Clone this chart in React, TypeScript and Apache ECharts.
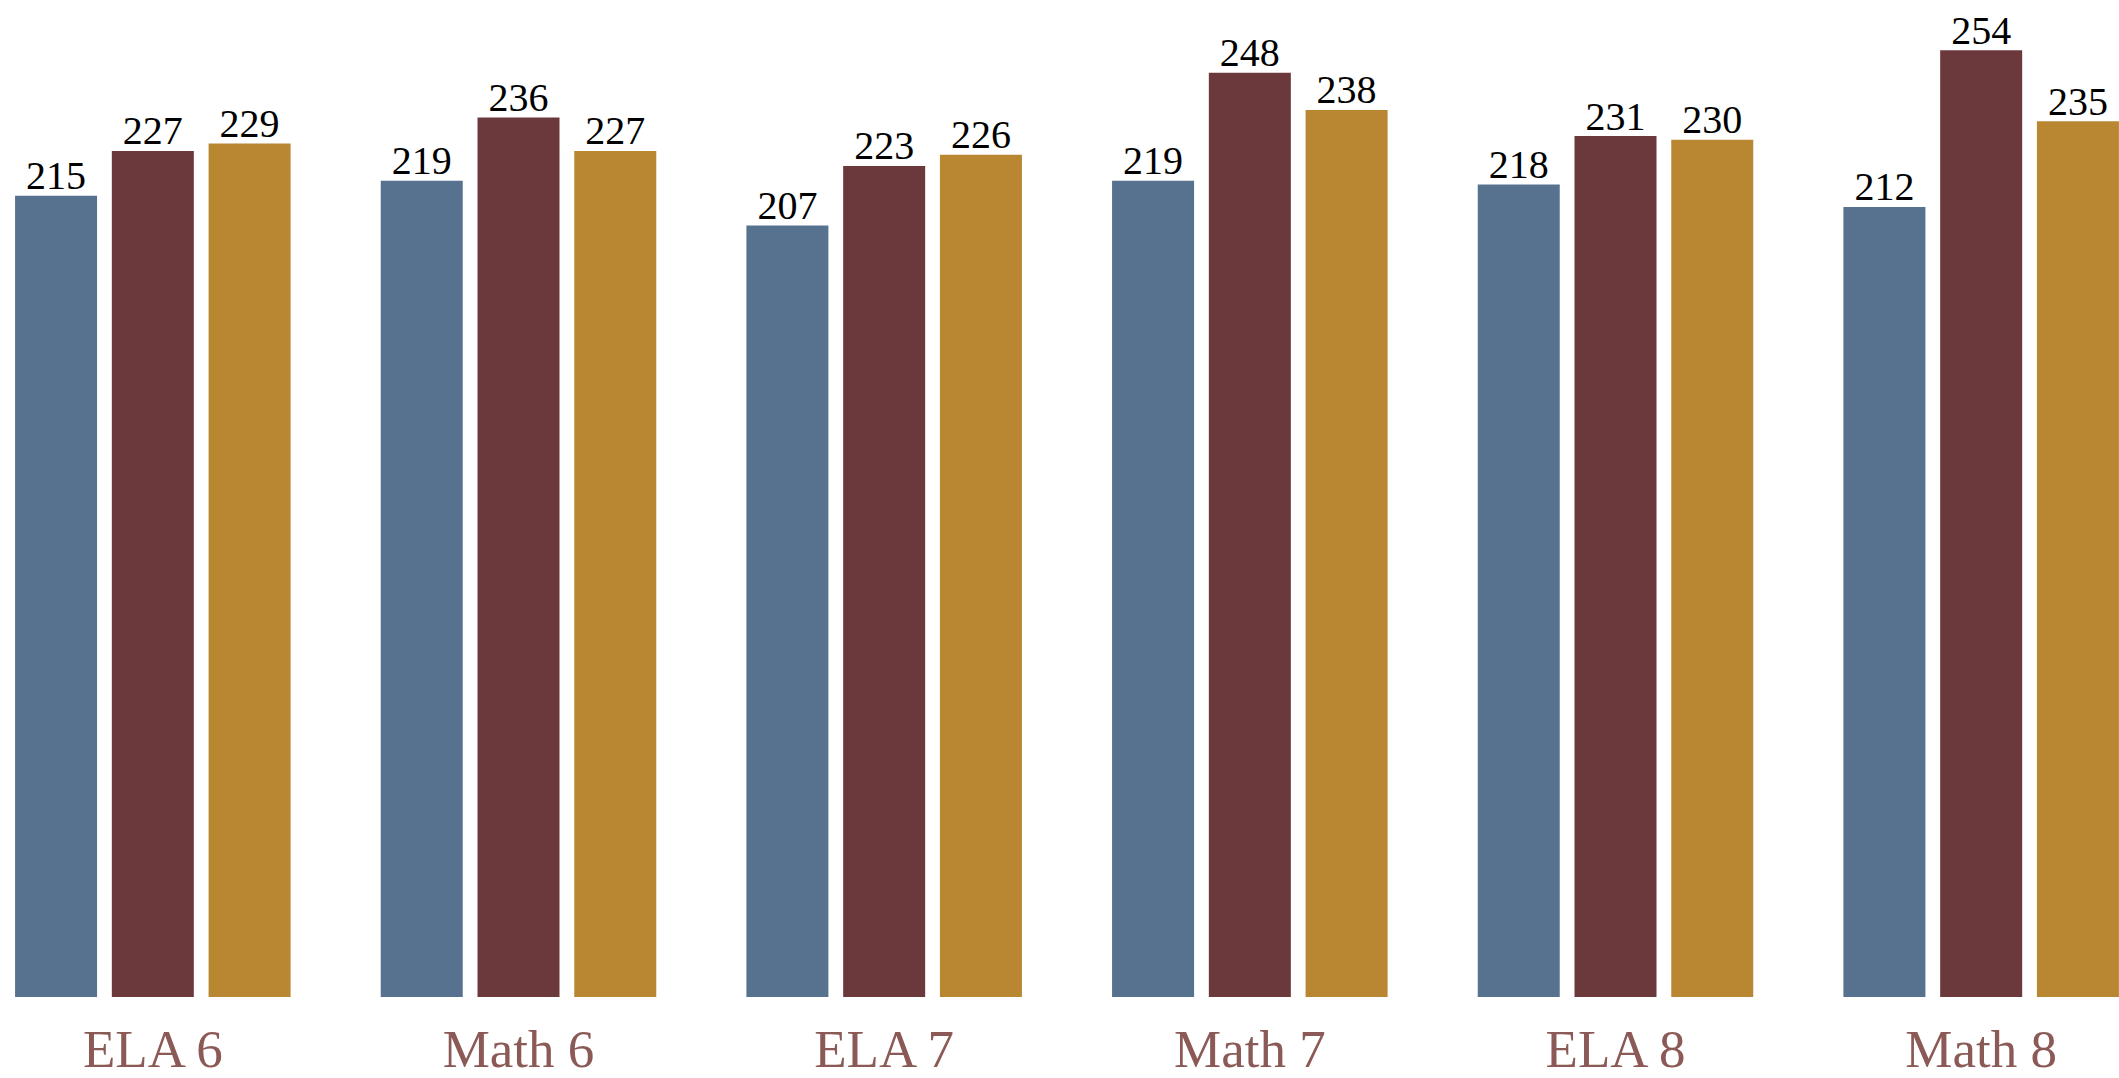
import React, { useEffect, useRef } from "react";
import * as echarts from "echarts";

const categories = ["ELA 6", "Math 6", "ELA 7", "Math 7", "ELA 8", "Math 8"];
const seriesNames = ["Series A", "Series B", "Series C"];
const seriesA = [215, 219, 207, 219, 218, 212];
const seriesB = [227, 236, 223, 248, 231, 254];
const seriesC = [229, 227, 226, 238, 230, 235];
const colors = ["#56728f", "#6b383b", "#b98632"];

export default function App() {
  const ref = useRef<HTMLDivElement>(null);
  useEffect(() => {
    document.body.style.margin = "0";
    const chart = echarts.init(ref.current!, null, { renderer: "svg" });
    const mk = (name: string, data: number[], color: string) => ({
      name,
      type: "bar",
      data,
      barWidth: 82,
      barGap: "18%",
      itemStyle: { color },
      label: {
        show: true,
        position: "top",
        distance: 0,
        color: "#000",
        fontFamily: "Liberation Serif",
        fontSize: 40,
      },
    });
    chart.setOption({
      animation: false,
      backgroundColor: "#ffffff",
      grid: { left: 0, right: 0, top: 28, bottom: 81, containLabel: false },
      xAxis: {
        type: "category",
        data: categories,
        axisLine: { show: false },
        axisTick: { show: false },
        axisLabel: {
          color: "#8b5a56",
          fontFamily: "Liberation Serif",
          fontSize: 53,
          lineHeight: 44,
          margin: 30,
        },
      },
      yAxis: {
        type: "value",
        min: 0,
        max: 260,
        show: false,
        splitLine: { show: false },
      },
      series: [
        mk(seriesNames[0], seriesA, colors[0]),
        mk(seriesNames[1], seriesB, colors[1]),
        mk(seriesNames[2], seriesC, colors[2]),
      ],
    });
    return () => chart.dispose();
  }, []);
  return (
    <div style={{ position: "relative", width: 2119, height: 1078, overflow: "hidden" }}>
      <div ref={ref} style={{ position: "absolute", left: -30, top: 0, width: 2194, height: 1078 }} />
    </div>
  );
}
